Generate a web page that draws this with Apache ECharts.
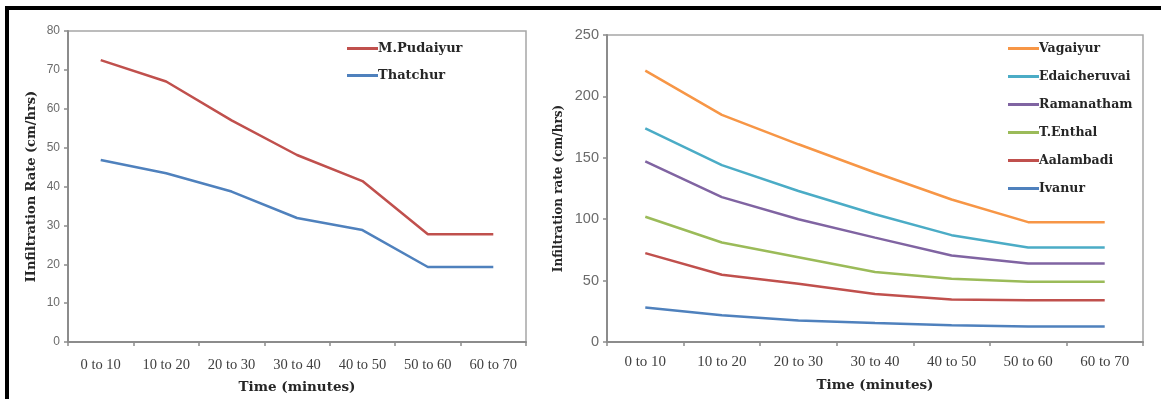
<!DOCTYPE html>
<html>
<head>
<meta charset="utf-8">
<script src="https://cdn.jsdelivr.net/npm/echarts@6/dist/echarts.min.js"></script>
<style>
html,body{margin:0;padding:0;background:#fff;}
#c{width:1161px;height:399px;}
</style>
</head>
<body>
<div id="c"></div>
<script>
const categories = ["0 to 10","10 to 20","20 to 30","30 to 40","40 to 50","50 to 60","60 to 70"];

// Left chart
const mPudaiyur = [72.5, 67.0, 57.0, 48.1, 41.4, 27.7, 27.7];
const thatchur  = [46.8, 43.4, 38.7, 31.9, 28.8, 19.3, 19.3];

// Right chart
const vagaiyur     = [221, 185, 161, 138, 116, 97.6, 97.6];
const edaicheruvai = [174, 144, 123, 104, 87, 77, 77];
const ramanatham   = [147, 118, 100, 85, 70.5, 64, 64];
const tEnthal      = [102, 81, 69, 57, 51.5, 49, 49];
const aalambadi    = [72.4, 54.8, 47.5, 39, 34.7, 34, 34];
const ivanur       = [28, 21.7, 17.6, 15.5, 13.6, 12.7, 12.7];

const leftNames  = ["M.Pudaiyur","Thatchur"];
const rightNames = ["Vagaiyur","Edaicheruvai","Ramanatham","T.Enthal","Aalambadi","Ivanur"];

const chart = echarts.init(document.getElementById('c'), null, {renderer:'canvas'});

const serif = "'DejaVu Serif', serif";
const axisLineStyle = {color:'#8c8c8c', width:2};
function xAx(gi){
  return {
    type:'category', gridIndex:gi, data:categories, boundaryGap:true,
    axisLine:{show:true, lineStyle:axisLineStyle},
    axisTick:{show:true, length:4, lineStyle:{color:'#8c8c8c', width:1.5}},
    axisLabel:{color:'#404040', fontFamily:"'Liberation Serif', serif", fontSize: gi===0?14.5:15, margin: gi===0?16:13, interval:0, hideOverlap:false},
    name:'Time (minutes)', nameLocation:'middle', nameGap: gi===0?38:36,
    nameTextStyle:{color:'#262626', fontFamily:serif, fontWeight:'bold', fontSize:13.5}
  };
}
function yAx(gi, max, interval, name, fs, gap, nfs){
  return {
    type:'value', gridIndex:gi, min:0, max:max, interval:interval,
    splitLine:{show:false},
    axisLine:{show:true, lineStyle:axisLineStyle},
    axisTick:{show:true, length:4, lineStyle:{color:'#8c8c8c', width:1.5}},
    axisLabel:{color:'#6b6b6b', fontFamily:"'Liberation Sans', sans-serif", fontSize:fs, margin:8},
    name:name, nameLocation:'middle', nameGap:gap, nameRotate:90,
    nameTextStyle:{color:'#262626', fontFamily:serif, fontWeight:'bold', fontSize:nfs}
  };
}
function ser(name, data, color, gi){
  return {
    name:name, type:'line', xAxisIndex:gi, yAxisIndex:gi, data:data,
    symbol:'none', lineStyle:{color:color, width:2.5}, itemStyle:{color:color},
    animation:false
  };
}

const option = {
  animation:false,
  backgroundColor:'#ffffff',
  grid:[
    {left:68, top:31, width:458, height:313, show:true, borderColor:'#a6a6a6', borderWidth:1.5, backgroundColor:'transparent'},
    {left:607, top:35, width:536, height:307, show:true, borderColor:'#a6a6a6', borderWidth:1.5, backgroundColor:'transparent'}
  ],
  xAxis:[xAx(0), xAx(1)],
  yAxis:[
    yAx(0, 80, 10, 'IInfiltration Rate (cm/hrs)', 12, 30, 13),
    yAx(1, 250, 50, 'Infiltration rate (cm/hrs)', 14.5, 42, 12)
  ],
  legend:[
    {data:leftNames, orient:'vertical', left:342, top:37, icon:'rect', itemWidth:31, itemHeight:3, itemGap:14,
     textStyle:{color:'#262626', fontFamily:serif, fontWeight:'bold', fontSize:13, padding:[0,0,0,-5]}},
    {data:rightNames, orient:'vertical', left:1003, top:37, icon:'rect', itemWidth:31, itemHeight:3, itemGap:15,
     textStyle:{color:'#262626', fontFamily:serif, fontWeight:'bold', fontSize:12.5, padding:[0,0,0,-5]}}
  ],
  series:[
    ser('M.Pudaiyur', mPudaiyur, '#C0504D', 0),
    ser('Thatchur', thatchur, '#4F81BD', 0),
    ser('Vagaiyur', vagaiyur, '#F79646', 1),
    ser('Edaicheruvai', edaicheruvai, '#4BACC6', 1),
    ser('Ramanatham', ramanatham, '#8064A2', 1),
    ser('T.Enthal', tEnthal, '#9BBB59', 1),
    ser('Aalambadi', aalambadi, '#C0504D', 1),
    ser('Ivanur', ivanur, '#4F81BD', 1)
  ],
  graphic:[
    {type:'rect', shape:{x:5, y:6, width:1156, height:4}, style:{fill:'#000'}},
    {type:'rect', shape:{x:5, y:6, width:4, height:393}, style:{fill:'#000'}}
  ]
};
chart.setOption(option);
</script>
</body>
</html>
